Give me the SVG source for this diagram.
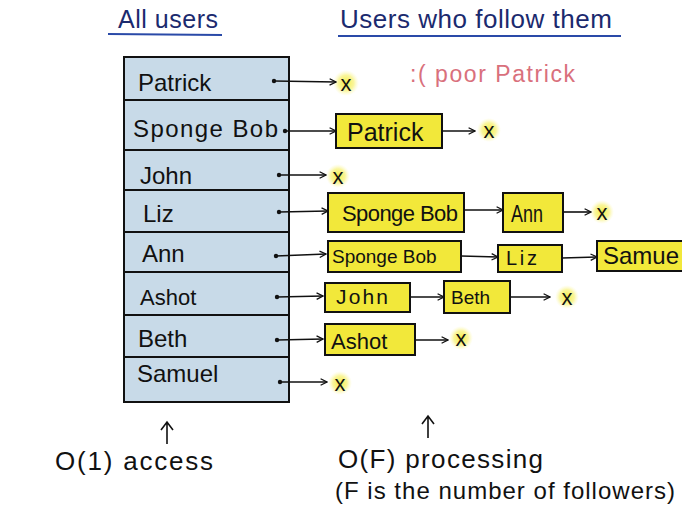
<svg xmlns="http://www.w3.org/2000/svg" width="682" height="522" viewBox="0 0 682 522">
<defs>
<marker id="ah" viewBox="0 0 10 10" refX="9" refY="5" markerWidth="8" markerHeight="8" markerUnits="userSpaceOnUse" orient="auto">
<path d="M1,1 L9,5 L1,9" fill="none" stroke="#111" stroke-width="1.6"/>
</marker>
<radialGradient id="glow">
<stop offset="0" stop-color="#f4ec3a" stop-opacity="0.95"/>
<stop offset="0.6" stop-color="#f6ef5a" stop-opacity="0.6"/>
<stop offset="1" stop-color="#fbf7a8" stop-opacity="0"/>
</radialGradient>
<style>
text{font-family:"Liberation Sans","DejaVu Sans",sans-serif;fill:#111;}
.t{font-size:24px;}
.row{fill:#c8dae8;stroke:#111;stroke-width:2;}
.yb{fill:#f2e83a;stroke:#111;stroke-width:2;}
.x{font-size:22px;text-anchor:middle;}
.c line{stroke:#111;stroke-width:1.6;marker-end:url(#ah);}
.c circle{fill:#111;}
.h{fill:#1b2a6e;}
.ul{stroke:#2a4aa8;stroke-width:2.2;}
</style>
</defs>
<rect width="682" height="522" fill="#ffffff"/>

<g id="titles">
<text class="h" x="118" y="28" style="font-size:25px" textLength="100">All users</text>
<line class="ul" x1="108" y1="34" x2="222" y2="35"/>
<text class="h" x="340" y="28" style="font-size:26px" textLength="272">Users who follow them</text>
<line class="ul" x1="338" y1="36" x2="621" y2="36"/>
</g>

<g id="table">
<g id="u-patrick"><rect class="row" x="124" y="57" width="165" height="43"/><text class="t" x="138" y="91">Patrick</text></g>
<g id="u-spongebob"><rect class="row" x="124" y="100" width="165" height="50"/><text class="t" x="133" y="137" textLength="145">Sponge Bob</text></g>
<g id="u-john"><rect class="row" x="124" y="150" width="165" height="40"/><text class="t" x="140" y="184">John</text></g>
<g id="u-liz"><rect class="row" x="124" y="190" width="165" height="42"/><text class="t" x="143" y="222">Liz</text></g>
<g id="u-ann"><rect class="row" x="124" y="232" width="165" height="40"/><text class="t" x="142" y="262">Ann</text></g>
<g id="u-ashot"><rect class="row" x="124" y="272" width="165" height="43"/><text class="t" x="140" y="305" style="font-size:22px">Ashot</text></g>
<g id="u-beth"><rect class="row" x="124" y="315" width="165" height="42"/><text class="t" x="138" y="347">Beth</text></g>
<g id="u-samuel"><rect class="row" x="124" y="357" width="165" height="45"/><text class="t" x="137" y="382">Samuel</text></g>
</g>

<g id="xmarks">
<circle cx="346" cy="83" r="13" fill="url(#glow)"/><text class="x" x="346" y="91">x</text>
<circle cx="489" cy="130" r="12" fill="url(#glow)"/><text class="x" x="489" y="138">x</text>
<circle cx="338" cy="176" r="12" fill="url(#glow)"/><text class="x" x="338" y="184">x</text>
<circle cx="602" cy="212" r="12" fill="url(#glow)"/><text class="x" x="602" y="220">x</text>
<circle cx="567" cy="297" r="12" fill="url(#glow)"/><text class="x" x="567" y="305">x</text>
<circle cx="461" cy="338" r="12" fill="url(#glow)"/><text class="x" x="461" y="346">x</text>
<circle cx="340" cy="383" r="12" fill="url(#glow)"/><text class="x" x="340" y="391">x</text>
</g>

<g id="f-patrick"><rect class="yb" x="336" y="114" width="106" height="34"/><text x="347" y="141" style="font-size:25px">Patrick</text></g>
<g id="f-liz-sb"><rect class="yb" x="328" y="193" width="136" height="39"/><text x="342" y="221" style="font-size:22px" textLength="116">Sponge Bob</text></g>
<g id="f-liz-ann"><rect class="yb" x="503" y="193" width="60" height="39"/><text x="511" y="222" style="font-size:23px" textLength="32" lengthAdjust="spacingAndGlyphs">Ann</text></g>
<g id="f-ann-sb"><rect class="yb" x="328" y="241" width="133" height="31"/><text x="332" y="263" style="font-size:19px">Sponge Bob</text></g>
<g id="f-ann-liz"><rect class="yb" x="498" y="245" width="64" height="27"/><text x="506" y="265" style="font-size:20px" textLength="31">Liz</text></g>
<g id="f-ann-samuel"><rect class="yb" x="597" y="241" width="90" height="30"/><text x="603" y="264" style="font-size:24px">Samue</text></g>
<g id="f-ashot-john"><rect class="yb" x="325" y="283" width="85" height="29"/><text x="336" y="304" style="font-size:21px" textLength="52">John</text></g>
<g id="f-ashot-beth"><rect class="yb" x="444" y="281" width="66" height="32"/><text x="451" y="304" style="font-size:19px">Beth</text></g>
<g id="f-beth-ashot"><rect class="yb" x="325" y="324" width="90" height="31"/><text x="331" y="349" style="font-size:22px">Ashot</text></g>

<g id="connectors" class="c">
<circle cx="274" cy="81" r="2.2"/><line x1="274" y1="81" x2="336" y2="82"/>
<circle cx="285" cy="131" r="2.2"/><line x1="285" y1="131" x2="336" y2="131"/>
<line x1="442" y1="131" x2="475" y2="131"/>
<circle cx="279" cy="175" r="2.2"/><line x1="279" y1="175" x2="326" y2="175"/>
<circle cx="279" cy="212" r="2.2"/><line x1="279" y1="212" x2="328" y2="211"/>
<line x1="464" y1="210" x2="503" y2="210"/>
<line x1="563" y1="212" x2="591" y2="212"/>
<circle cx="276" cy="256" r="2.2"/><line x1="276" y1="256" x2="326" y2="254"/>
<line x1="461" y1="256" x2="498" y2="257"/>
<line x1="562" y1="258" x2="597" y2="257"/>
<circle cx="277" cy="297" r="2.2"/><line x1="277" y1="297" x2="323" y2="296"/>
<line x1="410" y1="297" x2="444" y2="297"/>
<line x1="510" y1="297" x2="550" y2="297"/>
<circle cx="277" cy="340" r="2.2"/><line x1="277" y1="340" x2="323" y2="339"/>
<line x1="415" y1="340" x2="448" y2="340"/>
<circle cx="280" cy="382" r="2.2"/><line x1="280" y1="382" x2="327" y2="382"/>
</g>

<g id="note">
<text x="410" y="82" textLength="165" style="fill:#d9707c;font-size:23px">:( poor Patrick</text>
</g>

<g id="bottom">
<path d="M167,444 L167,423 M161,430 L167,422 L173,430" fill="none" stroke="#111" stroke-width="1.6"/>
<path d="M428,438 L428,416 M422,424 L428,416 L434,424" fill="none" stroke="#111" stroke-width="1.6"/>
<text x="55" y="470" textLength="158" style="font-size:26px">O(1) access</text>
<text x="338" y="468" textLength="205" style="font-size:26px">O(F) processing</text>
<text x="335" y="499" textLength="340" style="font-size:24px">(F is the number of followers)</text>
</g>
</svg>
